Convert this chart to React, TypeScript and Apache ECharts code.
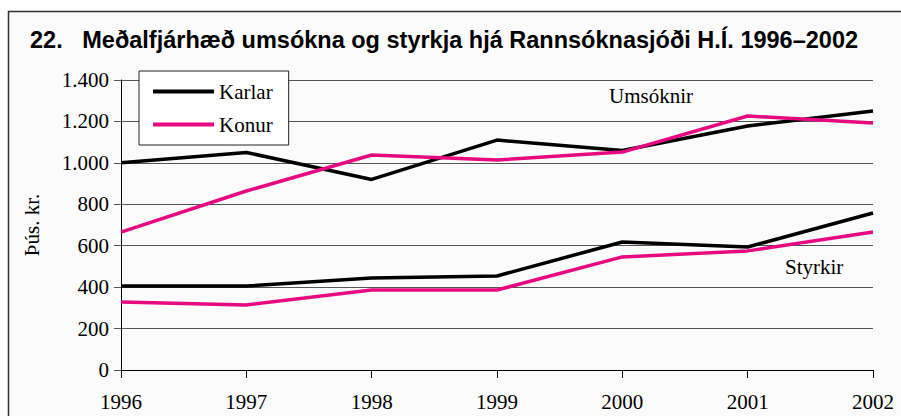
import React, { useEffect, useRef } from "react";
import * as echarts from "echarts";

const years = ["1996", "1997", "1998", "1999", "2000", "2001", "2002"];
const karlarUmsoknir = [1000, 1050, 920, 1110, 1060, 1178, 1250];
const konurUmsoknir = [666, 864, 1038, 1014, 1052, 1226, 1192];
const karlarStyrkir = [405, 405, 444, 454, 618, 594, 758];
const konurStyrkir = [328, 314, 386, 386, 546, 575, 666];

const titleText = "22.   Meðalfjárhæð umsókna og styrkja hjá Rannsóknasjóði H.Í. 1996–2002";
const serif = "'Liberation Serif', 'Times New Roman', serif";
const BLACK = "#000000";
const PINK = "#e6097f";

export default function App() {
  const ref = useRef<HTMLDivElement>(null);
  useEffect(() => {
    if (!ref.current) return;
    const chart = echarts.init(ref.current, null, { renderer: "svg" });
    const lineSeries = (name: string, data: number[], color: string) => ({
      name,
      type: "line",
      data,
      symbol: "none",
      lineStyle: { color, width: 3.5 },
      itemStyle: { color },
      z: name === "Karlar" ? 3 : 4,
    });
    chart.setOption({
      animation: false,
      backgroundColor: "#ffffff",
      title: {
        text: titleText,
        left: 25,
        top: 23,
        textStyle: {
          fontFamily: "'Liberation Sans', Arial, sans-serif",
          fontWeight: "bold",
          fontSize: 23.5,
          color: "#000",
        },
      },
      grid: { left: 121, right: 28, top: 80, bottom: 46, containLabel: false },
      legend: {
        data: ["Karlar", "Konur"],
        orient: "vertical",
        left: 139,
        top: 71,
        padding: [10, 16, 10, 14],
        itemGap: 12,
        itemWidth: 61,
        itemHeight: 4,
        itemTextGap: 6,
        icon: "rect",
        backgroundColor: "#ffffff",
        borderColor: "#222",
        borderWidth: 1,
        textStyle: { fontFamily: serif, fontSize: 21, color: "#000", lineHeight: 20 },
      },
      xAxis: {
        type: "category",
        data: years,
        boundaryGap: false,
        axisLine: { lineStyle: { color: "#000", width: 1 } },
        axisTick: { show: true, length: 8, lineStyle: { color: "#000" }, alignWithLabel: true },
        axisLabel: { fontFamily: serif, fontSize: 21, color: "#000", margin: 21 },
        splitLine: { show: false },
      },
      yAxis: {
        type: "value",
        min: 0,
        max: 1400,
        interval: 200,
        name: "Þús. kr.",
        nameLocation: "middle",
        nameGap: 79,
        nameTextStyle: { fontFamily: serif, fontSize: 21, color: "#000" },
        axisLine: { show: true, lineStyle: { color: "#000", width: 1 } },
        axisTick: { show: true, length: 7, lineStyle: { color: "#555" } },
        axisLabel: {
          fontFamily: serif,
          fontSize: 21,
          color: "#000",
          margin: 12,
          formatter: (v: number) => (v >= 1000 ? `${Math.floor(v / 1000)}.${String(v % 1000).padStart(3, "0")}` : String(v)),
        },
        splitLine: { show: true, lineStyle: { color: "#555", width: 1 } },
      },
      graphic: [
        {
          type: "rect",
          z: -10,
          silent: true,
          shape: { x: 8.5, y: 11.5, width: 1000, height: 1000 },
          style: { fill: "#fafbfa", stroke: "#333", lineWidth: 1.5 },
        },
        {
          type: "text",
          left: 609,
          top: 85,
          style: { text: "Umsóknir", font: `21px ${serif}`, fill: "#000" },
        },
        {
          type: "text",
          left: 785,
          top: 256,
          style: { text: "Styrkir", font: `21px ${serif}`, fill: "#000" },
        },
      ],
      series: [
        lineSeries("Karlar", karlarUmsoknir, BLACK),
        lineSeries("Konur", konurUmsoknir, PINK),
        lineSeries("Karlar", karlarStyrkir, BLACK),
        lineSeries("Konur", konurStyrkir, PINK),
      ],
    });
    return () => chart.dispose();
  }, []);
  return (
    <div
      ref={ref}
      style={{ position: "absolute", left: 0, top: 0, width: 901, height: 416 }}
    />
  );
}
